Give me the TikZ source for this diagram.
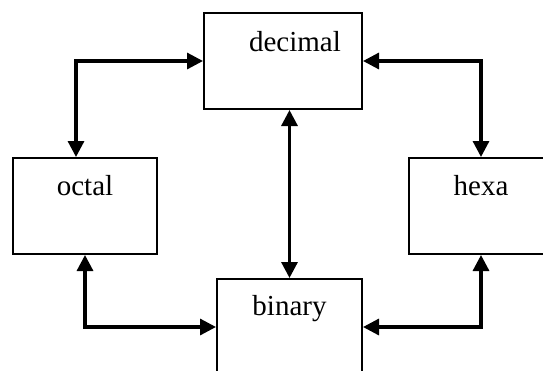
\documentclass[tikz,border=0pt]{standalone}
\usepackage{fontspec}
\setmainfont{Liberation Serif}
\usetikzlibrary{arrows.meta}
\begin{document}
\begin{tikzpicture}[x=1pt,y=-1pt,
  box/.style={draw=black,line width=2pt,fill=white,minimum width=144pt,minimum height=96pt,inner sep=0pt},
  lbl/.style={anchor=base,inner sep=0pt,font=\fontsize{29}{34}\selectfont},
  conn/.style={line width=3.2pt,{Triangle[length=16pt,width=16pt]}-{Triangle[length=16pt,width=16pt]}}]
\clip (0,0) rectangle (543,370);
\useasboundingbox (0,0) rectangle (543,370);
\node[box,minimum width=158pt] (dec) at (283,61) {};
\node[box] (oct) at (85,206) {};
\node[box] (hex) at (481,206) {};
\node[box,minimum width=145pt] (bin) at (289.5,327) {};
\node[lbl] (dect) at ([xshift=12pt,yshift=-39pt]dec.north) {decimal};
\node[lbl] (octt) at ([yshift=-38pt]oct.north) {octal};
\node[lbl] (hext) at ([yshift=-38pt]hex.north) {hexa};
\node[lbl] (bint) at ([yshift=-37pt]bin.north) {binary};
\draw[conn] (dec.west) -| ([xshift=-9pt]oct.north);
\draw[conn] (dec.east) -| (hex.north);
\draw[conn] (dec.south -| bin.north) -- (bin.north);
\draw[conn] (oct.south) |- (bin.west);
\draw[conn] (hex.south) |- (bin.east);
\end{tikzpicture}
\end{document}
